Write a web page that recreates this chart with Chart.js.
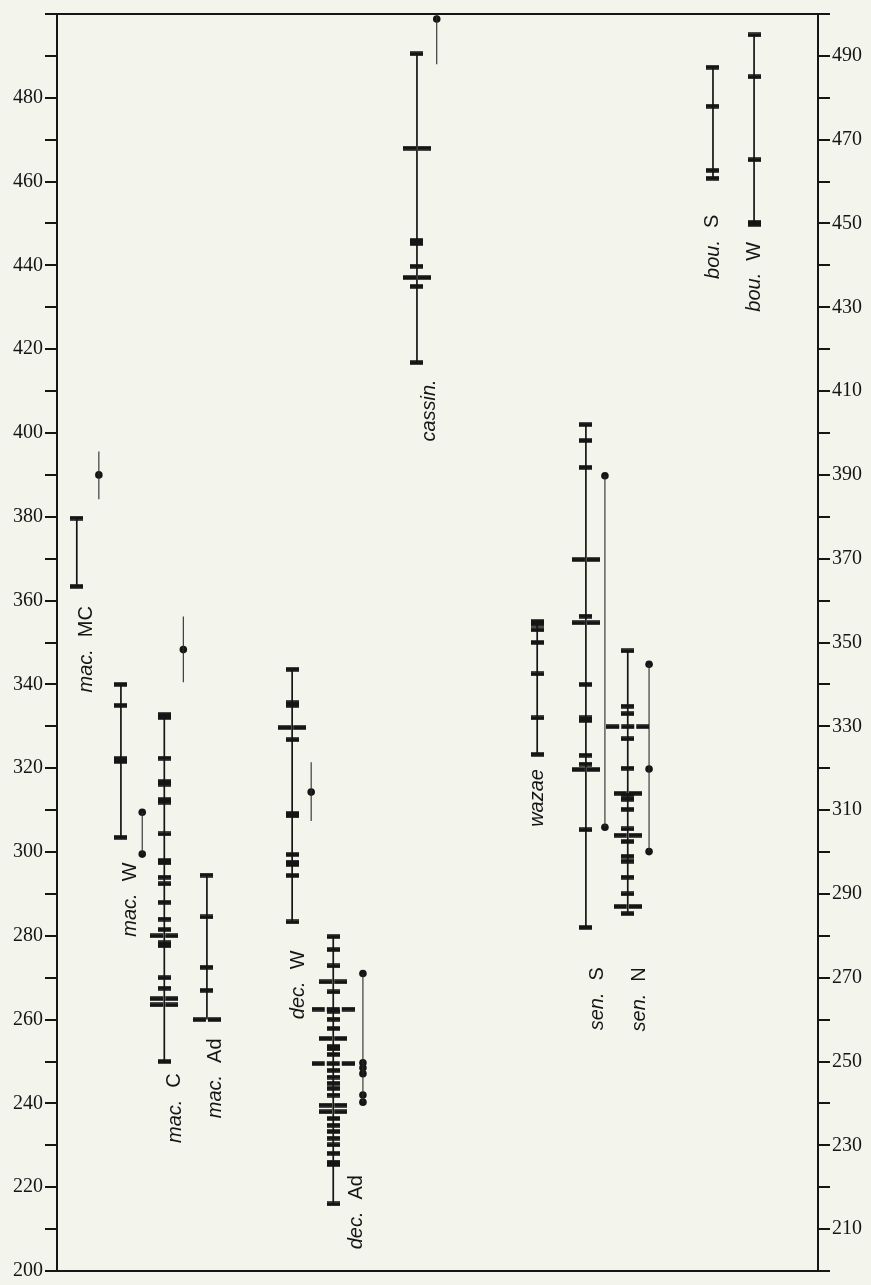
<!DOCTYPE html>
<html>
<head>
<meta charset="utf-8">
<script src="https://cdn.jsdelivr.net/npm/chart.js@4.4.1/dist/chart.umd.min.js"></script>
<style>
  html, body { margin: 0; padding: 0; background: #f3f4ec; }
  #wrap { width: 871px; height: 1285px; }
</style>
</head>
<body>
<div id="wrap"><canvas id="chart" width="871" height="1285"></canvas></div>
<script>
// Measurements per population. A value repeated = several specimens at that value
// (drawn side by side as a wider tick).
const macMC = [379.7, 363.4];
const macW  = [340, 335, 322.3, 321.6, 303.5];
const macC  = [332.8, 332.1, 322.4, 316.8, 316.2, 312.5, 311.9, 304.3, 298.0, 297.4, 294.0, 292.4,
               288, 284, 281.5, 280, 280, 278.3, 277.6, 270, 267.5, 265, 265, 263.5, 263.5, 250];
const macAd = [294.5, 284.5, 272.5, 267, 260, 260];
const decW  = [343.6, 335.6, 335.0, 329.7, 329.7, 326.8, 309.2, 308.6, 299.4, 297.6, 297.0, 294.4, 283.3];
const decAd = [279.8, 276.7, 272.8, 269, 269, 266.6, 262.5, 262.5, 262.5, 262.0, 260.1, 257.9, 255.5, 255.5,
               253.6, 253.0, 251.7, 249.5, 249.5, 249.5, 247.9, 246.3, 244.8, 243.6, 242.0, 239.6, 239.6,
               238.0, 238.0, 236.4, 234.8, 233.3, 231.7, 230.1, 228.1, 226.0, 225.4, 216.0];
const cassin = [490.5, 468, 468, 446, 445.2, 439.8, 437.1, 437.1, 435, 416.8];
const wazae = [355, 354.4, 353, 350, 342.5, 332, 323.3];
const senS  = [402, 398.2, 391.8, 369.8, 369.8, 356.3, 354.7, 354.7, 340, 332, 331.4, 323.1, 321,
               319.7, 319.7, 305.3, 282];
const senN  = [348, 334.8, 333, 329.9, 329.9, 329.9, 327, 320, 314, 314, 313.6, 312.6, 310.2, 305.5,
               304, 304, 302.5, 299, 297.8, 294, 290, 287, 287, 285.3];
const bouS  = [487.3, 478, 462.7, 460.8];
const bouW  = [495, 485, 465.2, 450.3, 449.8];

const columns   = [macMC, macW, macC, macAd, decW, decAd, cassin, wazae, senS, senN, bouS, bouW];
const columnPos = [2.6, 8.4, 14.1, 19.7, 30.9, 36.3, 47.3, 63.1, 69.5, 75.0, 86.2, 91.6];

// second sample (dots) and its spread
const dotPos     = [5.5, 11.2, 16.6, 33.4, 40.2, 49.9, 72.0, 77.8];
const dotSets    = [[390], [309.5, 299.5], [348.3], [314.3], [271, 249.7, 248.5, 247.1, 242, 240.3],
                    [498.8], [389.8, 305.9], [344.8, 319.8, 300.1]];
const dotSpreads = [[384.2, 395.6], [299.5, 309.5], [340.5, 356.2], [307.4, 321.4], [240.3, 271],
                    [488, 500], [305.9, 389.8], [300.1, 344.8]];

// column labels: italic genus part + plain part
const labelGenus = ['mac.', 'mac.', 'mac.', 'mac.', 'dec.', 'dec.', 'cassin.', 'wazae', 'sen.', 'sen.', 'bou.', 'bou.'];
const labelRest  = ['MC', 'W', 'C', 'Ad', 'W', 'Ad', '', '', 'S', 'N', 'S', 'W'];

const leftTickLabels  = [200, 220, 240, 260, 280, 300, 320, 340, 360, 380, 400, 420, 440, 460, 480];
const rightTickLabels = [210, 230, 250, 270, 290, 310, 330, 350, 370, 390, 410, 430, 450, 470, 490];

const INK = '#151515';
const SERIF = '"Liberation Serif", "DejaVu Serif", serif';
const SANS = '"Liberation Sans", Arial, sans-serif';

// where each label sits (x in column units, top end in axis units)
const labelSpots = {
  x:   [3.9, 9.7, 15.5, 20.8, 31.7, 39.3, 49.0, 63.1, 71.0, 76.6, 86.2, 91.7],
  top: [358.7, 297.5, 247.2, 255.5, 276.5, 222.9, 412.8, 319.8, 272.5, 272.5, 452.1, 445.6]
};

// tick images: n dashes side by side
const tickCache = {};
function tickImg(n) {
  if (tickCache[n]) return tickCache[n];
  const dash = 13, gap = 2, h = 4.5;
  const c = document.createElement('canvas');
  c.width = n * dash + (n - 1) * gap;
  c.height = 5;
  const g = c.getContext('2d');
  g.fillStyle = INK;
  for (let k = 0; k < n; k++) g.fillRect(k * (dash + gap), 0.25, dash, h);
  tickCache[n] = c;
  return c;
}

const datasets = [];
columns.forEach((vals, i) => {
  const x = columnPos[i];
  datasets.push({
    type: 'line',
    data: [{ x, y: Math.min(...vals) }, { x, y: Math.max(...vals) }],
    borderColor: INK, borderWidth: 1.7, pointRadius: 0
  });
  const counts = new Map();
  vals.forEach(v => counts.set(v, (counts.get(v) || 0) + 1));
  datasets.push({
    type: 'scatter',
    data: [...counts].map(([v, n]) => ({ x, y: v, n })),
    pointStyle: ctx => tickImg(ctx.raw ? ctx.raw.n : 1),
    pointRadius: 3
  });
});
dotSets.forEach((dots, i) => {
  const x = dotPos[i];
  datasets.push({
    type: 'line',
    data: dotSpreads[i].map(v => ({ x, y: v })),
    borderColor: '#2b2b2b', borderWidth: 1.1, pointRadius: 0
  });
  datasets.push({
    type: 'scatter',
    data: dots.map(v => ({ x, y: v })),
    pointStyle: 'circle', pointRadius: 3.8,
    backgroundColor: INK, borderWidth: 0
  });
});

const labelPlugin = {
  id: 'colLabels',
  afterDatasetsDraw(chart) {
    const { ctx, scales: { x, y } } = chart;
    ctx.save();
    ctx.fillStyle = INK;
    labelGenus.forEach((genus, i) => {
      const px = x.getPixelForValue(labelSpots.x[i]);
      const py = y.getPixelForValue(labelSpots.top[i]);
      ctx.save();
      ctx.translate(px, py);
      ctx.rotate(-Math.PI / 2);
      ctx.textBaseline = 'middle';
      ctx.textAlign = 'right';
      let off = 0;
      if (labelRest[i]) {
        ctx.font = `20px ${SANS}`;
        ctx.fillText(labelRest[i], 0, 0);
        off = ctx.measureText(labelRest[i]).width + 12;
      }
      ctx.font = `italic 20px ${SANS}`;
      ctx.fillText(genus, -off, 0);
      ctx.restore();
    });
    ctx.restore();
  }
};

const yAxis = (pos, labels, w) => ({
  type: 'linear', position: pos, min: 200, max: 500,
  ticks: {
    stepSize: 10, autoSkip: false, maxRotation: 0, padding: 2,
    color: INK, font: { family: SERIF, size: 20 },
    callback: v => labels.includes(v) ? String(v) : ''
  },
  grid: { drawOnChartArea: false, drawTicks: true, tickLength: 12, color: INK, lineWidth: 2 },
  border: { display: true, color: INK, width: 2 },
  afterFit: s => { s.width = w; }
});
const xAxis = pos => ({
  type: 'linear', axis: 'x', position: pos, min: 0, max: 100,
  ticks: { display: false },
  grid: { display: false, drawTicks: false },
  border: { display: true, color: INK, width: 2 },
  afterFit: s => { s.height = 0; }
});

new Chart(document.getElementById('chart'), {
  type: 'scatter',
  data: { datasets },
  options: {
    responsive: false,
    animation: false,
    events: [],
    layout: { padding: { top: 14, bottom: 12, left: 0, right: 0 } },
    plugins: { legend: { display: false }, tooltip: { enabled: false } },
    scales: {
      x: xAxis('bottom'),
      xTop: xAxis('top'),
      y: yAxis('left', leftTickLabels, 57),
      y2: yAxis('right', rightTickLabels, 53)
    }
  },
  plugins: [labelPlugin]
});
</script>
</body>
</html>
